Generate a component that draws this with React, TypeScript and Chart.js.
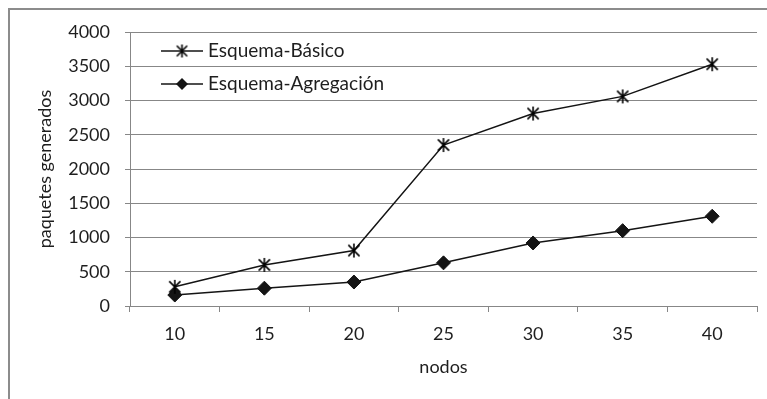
import React, { useEffect, useRef } from "react";
import { Chart, registerables } from "chart.js";

Chart.register(...registerables);

const categories = ["10", "15", "20", "25", "30", "35", "40"];
const basico = [280, 600, 810, 2350, 2810, 3060, 3530];
const agregacion = [160, 260, 350, 630, 920, 1100, 1310];
const seriesNames = ["Esquema-Básico", "Esquema-Agregación"];
const xTitle = "nodos";
const yTitle = "paquetes generados";

const FONT = "Lato";
const TEXT = "#1e1e1e";
const GRID = "#878787";
const LINE = "#141414";

function makeStar(size: number): HTMLCanvasElement {
  const c = document.createElement("canvas");
  c.width = size;
  c.height = size;
  const ctx = c.getContext("2d")!;
  const m = size / 2;
  const r = size / 2 - 1;
  const d = r * 0.8;
  ctx.strokeStyle = "#000000";
  ctx.lineWidth = 1.6;
  ctx.beginPath();
  ctx.moveTo(m - d, m - d);
  ctx.lineTo(m + d, m + d);
  ctx.moveTo(m + d, m - d);
  ctx.lineTo(m - d, m + d);
  ctx.moveTo(m, m - r);
  ctx.lineTo(m, m + r);
  ctx.stroke();
  return c;
}

export default function App() {
  const ref = useRef<HTMLCanvasElement | null>(null);

  useEffect(() => {
    if (!ref.current) return;
    const star = makeStar(16);
    const starLegend = makeStar(15);

    const frame = {
      id: "frame",
      beforeDraw(chart: any) {
        const ctx = chart.ctx;
        ctx.save();
        ctx.fillStyle = "#ffffff";
        ctx.fillRect(0, 0, chart.width, chart.height);
        ctx.strokeStyle = "#8c8c8c";
        ctx.lineWidth = 2;
        ctx.beginPath();
        ctx.moveTo(9, chart.height + 5);
        ctx.lineTo(9, 9);
        ctx.lineTo(chart.width + 5, 9);
        ctx.stroke();
        ctx.restore();
      },
    };

    const legendInside = {
      id: "legendInside",
      afterDraw(chart: any) {
        const ctx = chart.ctx;
        const rows = [51, 84];
        ctx.save();
        rows.forEach((y, i) => {
          ctx.strokeStyle = LINE;
          ctx.lineWidth = 1.5;
          ctx.beginPath();
          ctx.moveTo(161, y);
          ctx.lineTo(203, y);
          ctx.stroke();
          if (i === 0) {
            ctx.drawImage(starLegend, 182 - 7.5, y - 7.5);
          } else {
            ctx.fillStyle = LINE;
            ctx.beginPath();
            ctx.moveTo(182 - 6, y);
            ctx.lineTo(182, y - 6);
            ctx.lineTo(182 + 6, y);
            ctx.lineTo(182, y + 6);
            ctx.closePath();
            ctx.fill();
          }
          ctx.fillStyle = TEXT;
          ctx.font = `19px ${FONT}`;
          ctx.textAlign = "left";
          ctx.textBaseline = "middle";
          ctx.fillText(seriesNames[i], 208, y);
        });
        ctx.restore();
      },
    };

    const chart = new Chart(ref.current, {
      type: "line",
      data: {
        labels: categories,
        datasets: [
          {
            label: seriesNames[0],
            data: basico,
            borderColor: LINE,
            backgroundColor: LINE,
            borderWidth: 1.5,
            pointStyle: star as any,
            pointRadius: 8,
            tension: 0,
          },
          {
            label: seriesNames[1],
            data: agregacion,
            borderColor: LINE,
            backgroundColor: LINE,
            borderWidth: 1.5,
            pointStyle: "rectRot",
            pointRadius: 7,
            pointBorderWidth: 1,
            tension: 0,
          },
        ],
      },
      options: {
        responsive: false,
        animation: false,
        layout: { padding: { left: 0, top: 32, right: 10, bottom: 0 } },
        plugins: {
          legend: { display: false },
          tooltip: { enabled: false },
        },
        scales: {
          x: {
            offset: true,
            grid: {
              display: true,
              drawOnChartArea: false,
              drawTicks: true,
              tickLength: 6,
              offset: true,
              color: GRID,
            },
            border: { display: true, color: GRID, width: 1 },
            ticks: { color: TEXT, font: { family: FONT, size: 18 }, padding: 11 },
            title: {
              display: true,
              text: xTitle,
              color: TEXT,
              font: { family: FONT, size: 18 },
              padding: { top: 0, bottom: 21 },
            },
            afterFit(scale: any) {
              scale.height = 93;
            },
          },
          y: {
            min: 0,
            max: 4000,
            ticks: {
              stepSize: 500,
              color: TEXT,
              font: { family: FONT, size: 18 },
              padding: 15,
              callback: (v: any) => String(v),
            },
            grid: { color: GRID, tickLength: 5, drawTicks: true },
            border: { display: true, color: GRID, width: 1 },
            title: {
              display: true,
              text: yTitle,
              color: TEXT,
              font: { family: FONT, size: 18 },
              padding: { top: 34, bottom: 0 },
            },
            afterFit(scale: any) {
              scale.width = 130;
            },
          },
        },
      },
      plugins: [frame, legendInside],
    });
    return () => chart.destroy();
  }, []);

  return (
    <div style={{ position: "fixed", left: 0, top: 0, width: 767, height: 399 }}>
      <canvas ref={ref} width={767} height={399} />
    </div>
  );
}
